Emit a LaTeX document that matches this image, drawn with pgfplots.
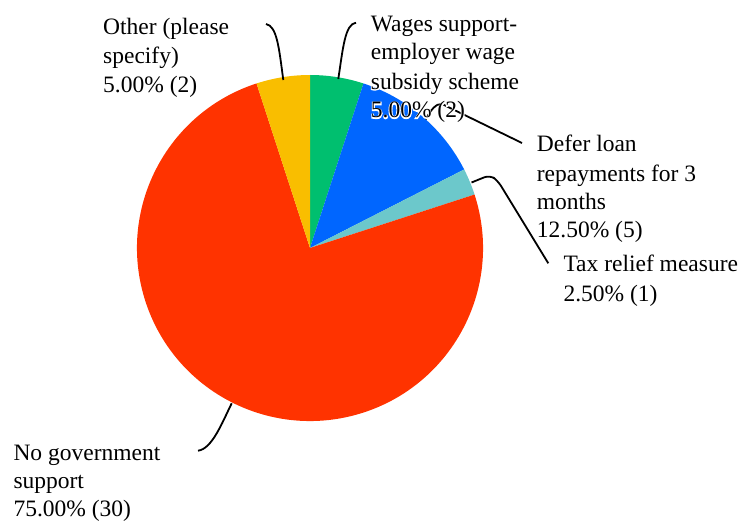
\documentclass[border=0pt]{standalone}
\usepackage{pgfplots}
\pgfplotsset{compat=1.18}
\usepackage{fontspec}
\setmainfont{Liberation Serif}
\newfontfamily\halofont[FakeBold=8]{Liberation Serif}
\definecolor{cgreen}{HTML}{00BF6F}
\definecolor{cblue}{HTML}{0066FF}
\definecolor{cteal}{HTML}{6CC8CB}
\definecolor{cred}{HTML}{FF3300}
\definecolor{cyellow}{HTML}{F9BE00}
\tikzset{lab/.style={anchor=base west,inner sep=0pt,text=black,font=\fontsize{23.5}{29}\selectfont}}
\newcommand{\lbl}[3]{\node[lab] at (axis cs:#1,#2) {#3};}
\newcommand{\halolbl}[3]{%
  \node[lab,text=white,font=\halofont\fontsize{23.5}{29}\selectfont] at (axis cs:#1,#2) {#3};
  \node[lab] at (axis cs:#1,#2) {#3};}
\begin{document}
\begin{tikzpicture}
\begin{axis}[x=1pt,y=1pt,xmin=0,xmax=742,ymin=0,ymax=523,hide axis,clip=false]
\path (rel axis cs:0,0) rectangle (rel axis cs:1,1);
% slices: value/colour, total 40, starting at 90 deg, clockwise
\xdef\startangle{90}
\foreach \v/\c in {2/cgreen,5/cblue,1/cteal,30/cred,2/cyellow}{%
  \pgfmathparse{-\v*360/40}\let\da\pgfmathresult
  \edef\tmp{\noexpand\fill[\c] (axis cs:310,275) -- ++(\startangle:173pt) arc[start angle=\startangle, delta angle=\da, radius=173pt] -- cycle;}\tmp
  \pgfmathparse{\startangle+\da}\xdef\startangle{\pgfmathresult}%
}
% leader lines
\draw[line width=1.8pt] (axis cs:283.3,443) .. controls (axis cs:279,475) and (axis cs:277,497) .. (axis cs:266,499);
\draw[line width=1.8pt] (axis cs:338.3,444) .. controls (axis cs:343,475) and (axis cs:345,499) .. (axis cs:356,500.3);
\draw[line width=1.8pt] (axis cs:425.8,403.6) .. controls (axis cs:430,412) and (axis cs:436,420) .. (axis cs:442,419) -- (axis cs:522,380);
\draw[line width=1.8pt,rounded corners=6pt] (axis cs:471.5,340.5) -- (axis cs:490,348) -- (axis cs:498,342) -- (axis cs:548.3,259.7);
\draw[line width=1.8pt] (axis cs:231.7,119.7) .. controls (axis cs:222,100) and (axis cs:212,74) .. (axis cs:198,72.3);
% labels
\lbl{103}{488}{Other (please}
\lbl{103}{459}{specify)}
\lbl{103}{430}{5.00\% (2)}
\lbl{370.7}{491.3}{Wages support-}
\lbl{370.7}{463}{employer wage}
\halolbl{370.7}{433.5}{subsidy scheme}
\halolbl{370.7}{405}{5.00\% (2)}
\lbl{536.7}{371.3}{Defer loan}
\lbl{536.7}{341.3}{repayments for 3}
\lbl{536.7}{313}{months}
\lbl{536.7}{285}{12.50\% (5)}
\lbl{563.3}{251.3}{Tax relief measure}
\lbl{563.3}{221.3}{2.50\% (1)}
\lbl{13.3}{63}{No government}
\lbl{13.3}{35}{support}
\lbl{13.3}{6.3}{75.00\% (30)}
\end{axis}
\end{tikzpicture}
\end{document}
